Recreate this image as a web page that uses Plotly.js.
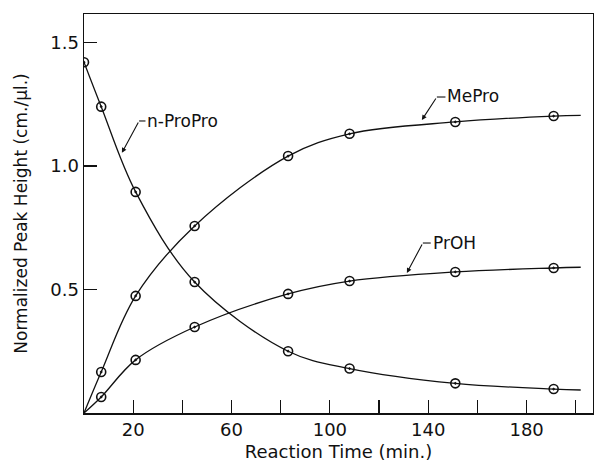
<!DOCTYPE html>
<html>
<head>
<meta charset="utf-8">
<script src="https://cdn.plot.ly/plotly-3.0.1.min.js"></script>
<style>html,body{margin:0;padding:0;background:#fff;}#chart{width:594px;height:464px;}</style>
</head>
<body>
<div id="chart"></div>
<script>
// Sampling times (min) with markers
const timeProPro = [0, 7, 21, 45, 83, 108, 151, 191];
const timeProducts = [7, 21, 45, 83, 108, 151, 191];
// Normalized peak heights (cm./µl.)
const nProPro = [1.42, 1.24, 0.895, 0.53, 0.25, 0.18, 0.12, 0.097];
const mePro = [0.166, 0.474, 0.757, 1.04, 1.13, 1.178, 1.202];
const prOH = [0.065, 0.215, 0.348, 0.482, 0.534, 0.571, 0.587];
// Smooth curve end points
const curveStartTime = 0;
const curveEndTime = 202;
const nProProEnd = 0.093;
const meProEnd = 1.205;
const prOHEnd = 0.59;
// Axis ticks
const xTickVals = [20, 40, 60, 80, 100, 120, 140, 160, 180, 200];
const xTickText = ['20', '', '60', '', '100', '', '140', '', '180', ''];
const yTickVals = [0.5, 1.0, 1.5];
const yTickText = ['0.5', '1.0', '1.5'];

const FONT = 'DejaVu Sans, sans-serif';
const ink = '#111';

function curve(xs, ys) {
  return {x: xs, y: ys, mode: 'lines', type: 'scatter', hoverinfo: 'skip',
    line: {color: ink, width: 1.3, shape: 'spline', smoothing: 1.0}, showlegend: false};
}
function marks(xs, ys, name) {
  return {x: xs, y: ys, mode: 'markers', type: 'scatter', name: name, showlegend: false,
    marker: {symbol: 'circle-open-dot', size: 9, color: ink, line: {color: ink, width: 1.6}}};
}

const traces = [
  curve(timeProPro.concat([curveEndTime]), nProPro.concat([nProProEnd])),
  curve([curveStartTime].concat(timeProducts, [curveEndTime]), [0].concat(mePro, [meProEnd])),
  curve([curveStartTime].concat(timeProducts, [curveEndTime]), [0].concat(prOH, [prOHEnd])),
  marks(timeProPro, nProPro, 'n-ProPro'),
  marks(timeProducts, mePro, 'MePro'),
  marks(timeProducts, prOH, 'PrOH')
];

function label(txt, tx, ty, tailx, taily, tipx, tipy) {
  return [
    {x: tipx, y: tipy, ax: tailx, ay: taily, axref: 'x', ayref: 'y', xref: 'x', yref: 'y',
     text: '', showarrow: true, arrowhead: 2, arrowsize: 0.9, arrowwidth: 1.1, arrowcolor: ink, standoff: 0, startstandoff: 0},
    {x: tx, y: ty, xref: 'x', yref: 'y', text: txt, showarrow: false, xanchor: 'left', yanchor: 'middle',
     font: {family: FONT, size: 17, color: ink}}
  ];
}

const annotations = [].concat(
  label('n-ProPro', 25.0, 1.182, 22.4, 1.182, 15.4, 1.053),
  label('MePro', 147.0, 1.283, 143.5, 1.279, 137.4, 1.186),
  label('PrOH', 141.0, 0.688, 137.8, 0.688, 131.3, 0.567)
);

const shapes = [
  {type: 'line', xref: 'x', yref: 'y', x0: 22.4, x1: 25.0, y0: 1.182, y1: 1.182, line: {color: ink, width: 1.1}},
  {type: 'line', xref: 'x', yref: 'y', x0: 143.5, x1: 147.0, y0: 1.279, y1: 1.279, line: {color: ink, width: 1.1}},
  {type: 'line', xref: 'x', yref: 'y', x0: 137.8, x1: 141.0, y0: 0.688, y1: 0.688, line: {color: ink, width: 1.1}}
];

const layout = {
  width: 594, height: 464,
  margin: {l: 84, r: 1, t: 14, b: 51, pad: 0},
  paper_bgcolor: '#fff', plot_bgcolor: '#fff',
  font: {family: FONT, size: 17, color: ink},
  showlegend: false,
  xaxis: {
    range: [0, 207], tickmode: 'array', tickvals: xTickVals, ticktext: xTickText,
    ticks: 'inside', ticklen: 13, tickwidth: 1.2, tickcolor: ink,
    showline: true, linecolor: ink, linewidth: 1.5, mirror: true,
    showgrid: false, zeroline: false,
    tickfont: {family: FONT, size: 18, color: ink},
    title: {text: 'Reaction Time (min.)', font: {family: FONT, size: 18, color: ink}, standoff: 6}
  },
  yaxis: {
    range: [0, 1.615], tickmode: 'array', tickvals: yTickVals, ticktext: yTickText,
    ticks: 'inside', ticklen: 13, tickwidth: 1.2, tickcolor: ink,
    showline: true, linecolor: ink, linewidth: 1.5, mirror: true,
    showgrid: false, zeroline: false,
    tickfont: {family: FONT, size: 18, color: ink},
    title: {text: 'Normalized Peak Height (cm./µl.)', font: {family: FONT, size: 17, color: ink}, standoff: 18}
  },
  annotations: annotations,
  shapes: shapes
};

Plotly.newPlot('chart', traces, layout, {staticPlot: true, displayModeBar: false});
</script>
</body>
</html>
